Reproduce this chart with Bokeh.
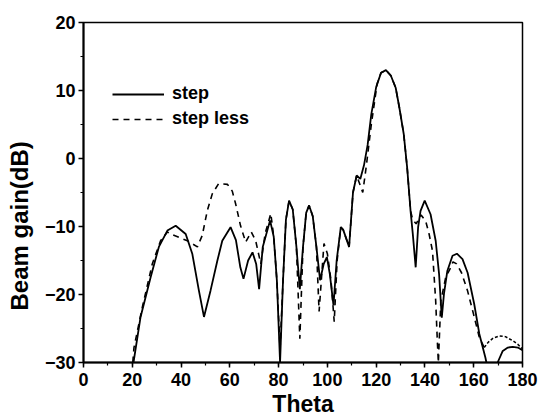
from bokeh.plotting import figure
from bokeh.models import SingleIntervalTicker, Legend, LegendItem, Range1d
from bokeh.embed import file_html
from bokeh.resources import INLINE

# ---- data ----
step_theta = [20.5, 23.4, 27.5, 30.9, 34.4, 37.8, 41.9, 44.6, 47.3, 49.4, 52.1, 54.9, 56.9,
              60.3, 62.5, 64.3, 65.6, 67.5, 69.3, 70.8, 72, 73.5, 76.5, 78, 79.3, 80.6, 81.8,
              83, 84.3, 85.8, 87.3, 88.7, 90, 91.3, 92.5, 94, 95.5, 97, 98.5, 99.8, 101,
              102.5, 103.8, 105.5, 106.5, 108.9, 110.5, 112, 113.5, 115, 116.5, 118, 120,
              122, 124, 126, 128, 129.5, 131.3, 132.7, 134.1, 135, 136.2, 137.2, 138.2,
              139.9, 142.3, 144.4, 145.8, 146.9, 147.8, 149.2, 151.3, 153.1, 155.4, 157.5,
              160.2, 162.3, 164.8, 165.2]
step_gain = [-30, -23.3, -17.5, -13, -10.6, -9.9, -11.1, -14, -19.4, -23.3, -19.4, -15,
             -12.1, -10.1, -12, -16, -17.7, -15, -13.8, -15.5, -19.2, -13, -9.1, -11.5, -18,
             -30, -18, -9, -6.2, -7.5, -13, -19.2, -13, -8, -6.9, -8.5, -13, -17.9, -15.5,
             -14.5, -17, -21.6, -15, -10.1, -10.5, -13, -5, -2.5, -3, -1, 2, 6.5, 10.5,
             12.6, 13, 12.2, 10.4, 7.5, 3.6, -1.3, -7.7, -11, -16, -10.1, -7.7, -6.2, -8.2,
             -12.1, -17, -23.4, -19.9, -16.5, -14.3, -14, -14.8, -16.8, -21.4, -25.8,
             -29.3, -30]
step_tail_theta = [169.8, 171.9, 174, 176, 178.1, 180]
step_tail_gain = [-30, -28.3, -27.8, -27.7, -27.8, -28.2]

less_theta = [20.2, 20.7, 24.1, 28.2, 31.6, 34.4, 35.7, 42.6, 46.7, 48.7, 50.8, 52.8, 55.4,
              59, 61, 62.4, 64.4, 66.5, 68.8, 70.6, 72.7, 74.5, 76.8, 78, 79.3, 80.6, 81.8,
              83, 84.3, 85.8, 87.3, 88.7, 90, 91.3, 92.5, 94, 95.5, 96.6, 98.6, 100, 101.5,
              102.8, 104, 105.5, 106.5, 108.9, 110.5, 112, 113.5, 114.5, 116, 118, 120.4,
              122, 124, 126, 128, 129.5, 131.3, 132.7, 134.1, 135, 136.4, 138.4, 140.3,
              141.7, 143.1, 144.4, 145.1, 145.5, 146.5, 148.5, 150.6, 151.5, 153, 155,
              157.5, 160, 162.3, 164.3]
less_gain = [-30, -27.8, -21.9, -15.5, -12.1, -10.8, -11.1, -12.1, -13, -11.3, -7.6, -5.2,
             -3.7, -3.8, -4.8, -6.7, -9.9, -12.3, -10.8, -12.1, -15.5, -11, -8.1, -11.5,
             -18, -28, -18, -9, -6.2, -7.5, -13, -26.5, -13, -8, -6.9, -8.5, -13, -22.5,
             -12.5, -14, -18, -24, -15, -10.1, -10.5, -13, -5, -2.5, -4, -5, -1, 5, 11,
             12.6, 13, 12.2, 10.4, 7.5, 3.6, -1.3, -7.7, -9, -9.6, -8.3, -9.2, -11.1,
             -13.6, -20.9, -27, -30, -21, -17.5, -16, -15.2, -15.5, -16.8, -19.5, -23,
             -26.3, -27.8]
less_tail_theta = [164.3, 166, 168, 170.5, 173, 176, 178, 180]
less_tail_gain = [-27.8, -27, -26.4, -26.1, -26.2, -26.8, -27.3, -28]

x_ticks_interval = 20
y_ticks_interval = 10

FONT = "Liberation Sans"

p = figure(width=540, height=419, output_backend="svg", toolbar_location=None,
           x_range=Range1d(0, 180), y_range=Range1d(-30, 20),
           min_border_left=83, min_border_right=18, min_border_top=22, min_border_bottom=57)
p.background_fill_color = "white"
p.border_fill_color = "white"
p.outline_line_color = "black"
p.outline_line_width = 1.5
p.xgrid.visible = False
p.ygrid.visible = False

p.xaxis.ticker = SingleIntervalTicker(interval=x_ticks_interval, num_minor_ticks=2)
p.yaxis.ticker = SingleIntervalTicker(interval=y_ticks_interval, num_minor_ticks=2)

for ax in (p.xaxis[0], p.yaxis[0]):
    ax.axis_line_width = 2
    ax.axis_line_color = "black"
    ax.major_tick_line_width = 1.5
    ax.minor_tick_line_width = 1.2
    ax.major_tick_out = 5
    ax.major_tick_in = 0
    ax.minor_tick_out = 3
    ax.minor_tick_in = 0
    ax.major_label_text_font = FONT
    ax.major_label_text_font_style = "bold"
    ax.major_label_text_font_size = "18px"
    ax.major_label_text_color = "black"
    ax.axis_label_text_font = FONT
    ax.axis_label_text_font_style = "bold"
    ax.axis_label_text_color = "black"

p.xaxis.major_label_standoff = 5
p.yaxis.major_label_standoff = 3

p.yaxis.axis_label = "Beam gain(dB)" + "\u00a0" * 10
p.yaxis.axis_label_text_font_size = "24px"
p.yaxis.axis_label_standoff = 9

p.xaxis.axis_label = "Theta"
p.xaxis.axis_label_text_font_size = "23px"
p.xaxis.axis_label_standoff = 2

r1 = p.line(step_theta, step_gain, line_color="black", line_width=1.8)
p.line(step_tail_theta, step_tail_gain, line_color="black", line_width=1.8)
r2 = p.line(less_theta, less_gain, line_color="black", line_width=1.6, line_dash="6 5")
p.line(less_tail_theta, less_tail_gain, line_color="black", line_width=1.5, line_dash="3 2")

legend = Legend(items=[LegendItem(label="step", renderers=[r1]),
                       LegendItem(label="step less", renderers=[r2])],
                location=(29, 233), padding=0, margin=0, spacing=4,
                glyph_width=52, glyph_height=20, label_standoff=8,
                label_text_font=FONT, label_text_font_style="bold",
                label_text_font_size="18px", label_text_color="black",
                background_fill_alpha=0, border_line_alpha=0)
p.add_layout(legend)

open("out.html", "w").write(file_html(p, INLINE))
